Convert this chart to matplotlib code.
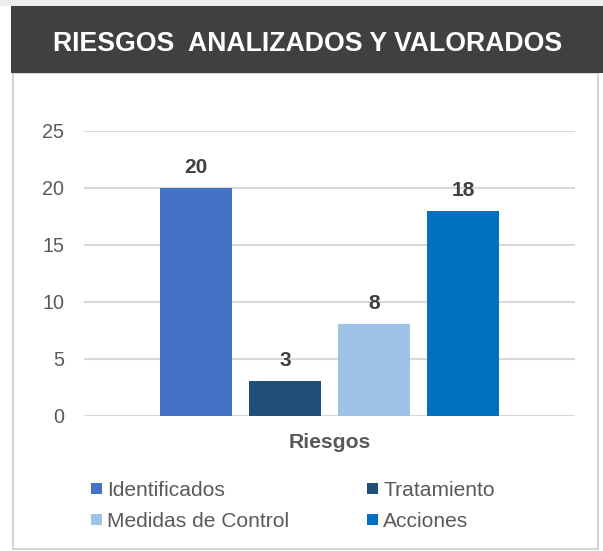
import matplotlib
matplotlib.use("Agg")
import matplotlib.pyplot as plt
from matplotlib.patches import Rectangle

categories = ["Identificados", "Tratamiento", "Medidas de Control", "Acciones"]
values = [20, 3, 8, 18]
colors = ["#4472C4", "#1F4E79", "#9DC3E6", "#0070C0"]
yticks = [0, 5, 10, 15, 20, 25]
title = "RIESGOS  ANALIZADOS Y VALORADOS"
xlabel = "Riesgos"

plt.rcParams['font.family'] = ['Liberation Sans', 'DejaVu Sans']

W, H = 603, 551
fig = plt.figure(figsize=(W/100, H/100), dpi=100)
fig.patch.set_facecolor("white")

def px(x, y, w, h):
    return (x/W, 1 - (y+h)/H, w/W, h/H)

# top light strip
x0, y0, w0, h0 = px(0, 0, 603, 6)
fig.patches.append(Rectangle((x0, y0), w0, h0, transform=fig.transFigure, facecolor="#ededed", edgecolor="none", zorder=0))
# white box with border
x0, y0, w0, h0 = px(12.5, 73, 585.5, 476)
fig.patches.append(Rectangle((x0, y0), w0, h0, transform=fig.transFigure, facecolor="white", edgecolor="#d4d4d4", linewidth=1.5, zorder=0))
# title bar
x0, y0, w0, h0 = px(11, 6, 600, 67)
fig.patches.append(Rectangle((x0, y0), w0, h0, transform=fig.transFigure, facecolor="#404040", edgecolor="none", zorder=1))
fig.text(53/W, 1 - 51/H, title, color="white", fontsize=19.2, fontweight="bold", ha="left", va="baseline", zorder=2)

ax = fig.add_axes([84/W, 1 - 415.5/H, (575-84)/W, (415.5-131)/H])
ax.set_zorder(5)
ax.set_facecolor("none")
xs = list(range(len(values)))
bars = ax.bar(xs, values, width=0.8, color=colors, zorder=3)
ax.set_xlim(1.5 - 491/2/89, 1.5 + 491/2/89)
ax.set_ylim(0, 25)
ax.set_yticks(yticks)
ax.set_yticklabels([str(t) for t in yticks], fontsize=14.2, color="#595959")
ax.tick_params(axis='y', length=0, pad=14.4)
ax.set_xticks([])
for s in ax.spines.values():
    s.set_visible(False)
ax.grid(axis='y', color="#d9d9d9", linewidth=1.5, zorder=0)
ax.set_axisbelow(True)
upx = (415.5 - 131) / 25.0
for b, v in zip(bars, values):
    ax.text(b.get_x() + b.get_width()/2, v + 15/upx, str(v), ha="center", va="baseline",
            fontsize=15, fontweight="bold", color="#404040")
ax.text(1.5, -(448 - 415.5)/upx, xlabel, ha="center", va="baseline", fontsize=15.2, fontweight="bold", color="#595959")

# legend (manual, 2 columns)
pos = [(91, 496), (367, 496), (91, 527), (367, 527)]
for (lx, ly), lab, c in zip(pos, categories, colors):
    rx, ry, rw, rh = px(lx, ly-13, 11, 10.5)
    fig.patches.append(Rectangle((rx, ry), rw, rh, transform=fig.transFigure, facecolor=c, edgecolor="none", zorder=3))
    fig.text((lx+16)/W, 1 - ly/H, lab, fontsize=15.1, color="#595959", ha="left", va="baseline", zorder=3)

fig.savefig("out.png", dpi=100)
